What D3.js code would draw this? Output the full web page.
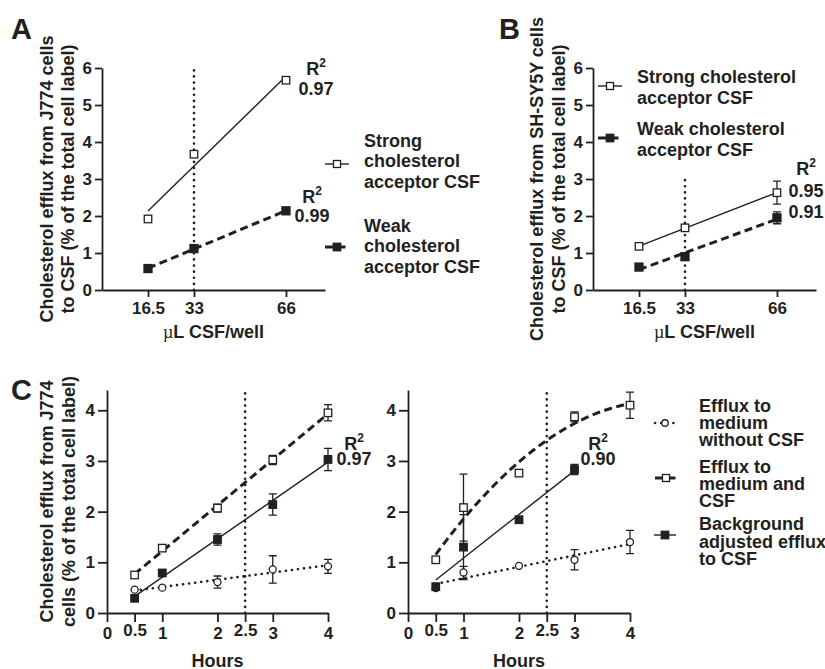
<!DOCTYPE html>
<html><head><meta charset="utf-8">
<script src="https://cdn.jsdelivr.net/npm/d3@7"></script>
<style>
body{margin:0;background:#fff;}
svg text{font-family:"Liberation Sans",Arial,sans-serif;font-weight:bold;fill:#231f20;}
</style></head><body>
<svg id="c" width="825" height="669" viewBox="0 0 825 669"></svg>
<script>
// ---------- data ----------
const doseAB = [16.5, 33, 66];
const doseTicks = [16.5, 33, 66];
const yTicksAB = [0, 1, 2, 3, 4, 5, 6];
const strongA = [1.92, 3.67, 5.67];
const weakA = [0.58, 1.12, 2.14];
const strongB = [1.18, 1.68, 2.63];
const strongBErr = [0, 0, 0.31];
const weakB = [0.62, 0.90, 1.95];
const weakBErr = [0, 0.09, 0.16];
const hoursC = [0.5, 1, 2, 3, 4];
const hoursAdjR = [0.5, 1, 2, 3];
const hourTicks = [0, 0.5, 1, 2, 2.5, 3, 4];
const yTicksC = [0, 1, 2, 3, 4];
const noCsfL = [0.46, 0.50, 0.61, 0.86, 0.92];
const noCsfLErr = [0, 0, 0.12, 0.27, 0.14];
const withCsfL = [0.75, 1.28, 2.07, 3.02, 3.95];
const withCsfLErr = [0, 0, 0.08, 0.09, 0.16];
const adjL = [0.29, 0.79, 1.45, 2.14, 3.03];
const adjLErr = [0, 0, 0.11, 0.21, 0.22];
const noCsfR = [0.49, 0.80, 0.93, 1.05, 1.40];
const noCsfRErr = [0, 0.12, 0, 0.20, 0.23];
const withCsfR = [1.05, 2.08, 2.76, 3.87, 4.10];
const withCsfRErr = [0, 0.66, 0, 0.10, 0.26];
const adjR = [0.52, 1.30, 1.84, 2.83];
const adjRErr = [0, 0.64, 0, 0.10];
const r2A = ["0.97", "0.99"];
const r2B = ["0.95", "0.91"];
const r2C = ["0.97", "0.90"];
const legendAB = [["Strong", "cholesterol", "acceptor CSF"], ["Weak", "cholesterol", "acceptor CSF"]];
const legendB = [["Strong cholesterol", "acceptor CSF"], ["Weak cholesterol", "acceptor CSF"]];
const legendC = [["Efflux to", "medium", "without CSF"], ["Efflux to", "medium and", "CSF"], ["Background", "adjusted efflux", "to CSF"]];

// ---------- helpers ----------
const INK = "#231f20";
const svg = d3.select("#c");
svg.append("rect").attr("width", 825).attr("height", 669).attr("fill", "#fff");

function linFit(xs, ys) {
  const n = xs.length, mx = d3.mean(xs), my = d3.mean(ys);
  let sxx = 0, sxy = 0;
  for (let i = 0; i < n; i++) { sxx += (xs[i] - mx) ** 2; sxy += (xs[i] - mx) * (ys[i] - my); }
  const b = sxy / sxx;
  return x => my + b * (x - mx);
}
function quadFit(xs, ys) {
  const S = k => d3.sum(xs, x => x ** k);
  const T = k => d3.sum(xs.map((x, i) => x ** k * ys[i]));
  const M = [[S(0), S(1), S(2), T(0)], [S(1), S(2), S(3), T(1)], [S(2), S(3), S(4), T(2)]];
  for (let i = 0; i < 3; i++) {
    for (let j = i + 1; j < 3; j++) {
      const f = M[j][i] / M[i][i];
      for (let k = i; k < 4; k++) M[j][k] -= f * M[i][k];
    }
  }
  const c = [0, 0, 0];
  for (let i = 2; i >= 0; i--) {
    let s = M[i][3];
    for (let k = i + 1; k < 3; k++) s -= M[i][k] * c[k];
    c[i] = s / M[i][i];
  }
  return x => c[0] + c[1] * x + c[2] * x * x;
}
const STYLE = {
  solid: { w: 1.4, dash: null, cap: "butt" },
  dashed: { w: 3, dash: "8,4.5", cap: "butt" },
  dotted: { w: 2.6, dash: "0.1,6", cap: "round" }
};
function styled(sel, s) {
  const st = STYLE[s];
  sel.attr("stroke", INK).attr("fill", "none").attr("stroke-width", st.w).attr("stroke-linecap", st.cap);
  if (st.dash) sel.attr("stroke-dasharray", st.dash);
  return sel;
}
function fitLine(p, xs, f, style, samples) {
  const x0 = d3.min(xs), x1 = d3.max(xs);
  const pts = samples ? d3.range(samples + 1).map(i => x0 + (x1 - x0) * i / samples) : [x0, x1];
  styled(svg.append("path").attr("d", d3.line().x(d => p.x(d)).y(d => p.y(f(d)))(pts)), style);
}
function marker(g, cx, cy, type, s) {
  if (type === "circle") {
    g.append("circle").attr("cx", cx).attr("cy", cy).attr("r", s / 2)
      .attr("fill", "#fff").attr("stroke", INK).attr("stroke-width", 1.3);
  } else {
    g.append("rect").attr("x", cx - s / 2).attr("y", cy - s / 2).attr("width", s).attr("height", s)
      .attr("fill", type === "filled" ? INK : "#fff").attr("stroke", INK).attr("stroke-width", 1.3);
  }
}
function errBars(p, xs, ys, es) {
  xs.forEach((x, i) => {
    const e = es ? es[i] : 0;
    if (!e) return;
    const cx = p.x(x), t = p.y(ys[i] + e), b = p.y(ys[i] - e);
    svg.append("path").attr("d", `M${cx},${t}V${b}M${cx - 4},${t}H${cx + 4}M${cx - 4},${b}H${cx + 4}`)
      .attr("stroke", INK).attr("stroke-width", 1.3).attr("fill", "none");
  });
}
function points(p, xs, ys, type, s) {
  const g = svg.append("g");
  xs.forEach((x, i) => marker(g, p.x(x), p.y(ys[i]), type, s));
}
function txt(x, y, s, size, anchor) {
  return svg.append("text").attr("x", x).attr("y", y).attr("font-size", size || 18)
    .attr("text-anchor", anchor || "start").text(s);
}
function r2(x, yR, yN, val) {
  const t = svg.append("text").attr("x", x).attr("y", yR).attr("font-size", 18).attr("text-anchor", "middle");
  t.append("tspan").text("R");
  t.append("tspan").attr("font-size", 12).attr("dy", -8).text("2");
  txt(x, yN, val, 18, "middle");
}
function yLabel(xs, cy, lines) {
  lines.forEach((l, i) => {
    svg.append("text").attr("transform", `translate(${xs[i]},${cy}) rotate(-90)`)
      .attr("text-anchor", "middle").attr("font-size", 18).text(l);
  });
}
function axes(p, xt, yt, tick, fmtX, raise) {
  const gx = svg.append("g").attr("transform", `translate(0,${p.y.range()[0]})`)
    .call(d3.axisBottom(p.x).tickValues(xt).tickSize(tick).tickSizeOuter(0).tickPadding(5).tickFormat(fmtX));
  const gy = svg.append("g").attr("transform", `translate(${p.x.range()[0]},0)`)
    .call(d3.axisLeft(p.y).tickValues(yt).tickSize(tick).tickSizeOuter(0).tickPadding(3).tickFormat(d3.format("d")));
  [gx, gy].forEach(g => {
    g.attr("font-family", null).attr("font-size", null).attr("color", INK);
    g.selectAll("path,line").attr("stroke-width", 1.8);
    g.selectAll("text").attr("font-size", 17);
  });
  if (raise) gx.selectAll(".tick text").filter(d => raise.includes(d)).attr("y", function () { return +d3.select(this).attr("y") - 3; });
}
function vref(p, xv, ytop) {
  styled(svg.append("line").attr("x1", p.x(xv)).attr("x2", p.x(xv))
    .attr("y1", p.y(0)).attr("y2", p.y(ytop)), "dotted");
}
function legendSym(x0, x1, y, style, type, s) {
  styled(svg.append("line").attr("x1", x0).attr("x2", x1).attr("y1", y).attr("y2", y), style);
  marker(svg.append("g"), (x0 + x1) / 2, y, type, s);
}

// ---------- Panel A ----------
const pA = { x: d3.scaleLinear([0, 80], [102, 325]), y: d3.scaleLinear([0, 6], [290, 68]) };
vref(pA, 33, 6);
fitLine(pA, doseAB, linFit(doseAB, strongA), "solid");
fitLine(pA, doseAB, linFit(doseAB, weakA), "dashed");
points(pA, doseAB, strongA, "open", 7.5);
points(pA, doseAB, weakA, "filled", 8);
axes(pA, doseTicks, yTicksAB, 7, d => String(d));
txt(213.5, 338, "", 18, "middle").call(t => {
  t.append("tspan").attr("font-family", "'Liberation Serif',serif").attr("font-weight", "normal").text("µ");
  t.append("tspan").text("L CSF/well");
});
yLabel([53, 74], 179, ["Cholesterol efflux from J774 cells", "to CSF (% of the total cell label)"]);
r2(316, 75, 95, r2A[0]);
r2(312, 203, 222, r2A[1]);
legendSym(325, 349, 164, "solid", "open", 7);
legendSym(325, 349, 247, "dashed", "filled", 7.5);
legendAB[0].forEach((l, i) => txt(364, [147, 167, 188][i], l));
legendAB[1].forEach((l, i) => txt(364, [232, 252, 273][i], l));
txt(11, 39, "A", 29);

// ---------- Panel B ----------
const pB = { x: d3.scaleLinear([0, 80], [593, 816]), y: d3.scaleLinear([0, 6], [290, 68]) };
vref(pB, 33, 3);
fitLine(pB, doseAB, linFit(doseAB, strongB), "solid");
fitLine(pB, doseAB, linFit(doseAB, weakB), "dashed");
errBars(pB, doseAB, strongB, strongBErr);
errBars(pB, doseAB, weakB, weakBErr);
points(pB, doseAB, strongB, "open", 7.5);
points(pB, doseAB, weakB, "filled", 8);
axes(pB, doseTicks, yTicksAB, 7, d => String(d));
txt(704.5, 338, "", 18, "middle").call(t => {
  t.append("tspan").attr("font-family", "'Liberation Serif',serif").attr("font-weight", "normal").text("µ");
  t.append("tspan").text("L CSF/well");
});
yLabel([543, 565], 179, ["Cholesterol efflux from SH-SY5Y cells", "to CSF (% of the total cell label)"]);
r2(806, 175, 197, r2B[0]);
txt(806, 218, r2B[1], 18, "middle");
legendSym(598, 622, 86, "solid", "open", 7);
legendSym(598, 622, 138, "dashed", "filled", 7.5);
legendB[0].forEach((l, i) => txt(637, [83, 104][i], l));
legendB[1].forEach((l, i) => txt(637, [135, 156][i], l));
txt(499, 39, "B", 29);

// ---------- Panel C ----------
const yC = d3.scaleLinear([0, 4.4], [613, 390]);
const pCL = { x: d3.scaleLinear([0, 4], [107, 328]), y: yC };
const pCR = { x: d3.scaleLinear([0, 4], [408, 630]), y: yC };
const fmtH = d => String(d);

function panelC(p, adjX, nc, ncE, wc, wcE, ad, adE, curved) {
  vref(p, 2.5, 4.4);
  fitLine(p, hoursC, linFit(hoursC, nc), "dotted");
  if (curved) fitLine(p, hoursC, quadFit(hoursC, wc), "dashed", 60);
  else fitLine(p, hoursC, linFit(hoursC, wc), "dashed");
  fitLine(p, adjX, linFit(adjX, ad), "solid");
  errBars(p, hoursC, nc, ncE);
  errBars(p, hoursC, wc, wcE);
  errBars(p, adjX, ad, adE);
  points(p, hoursC, nc, "circle", 7);
  points(p, hoursC, wc, "open", 7.5);
  points(p, adjX, ad, "filled", 7.5);
  axes(p, hourTicks, yTicksC, 9, fmtH, [0.5, 2.5]);
  const r = p.x.range();
  txt((r[0] + r[1]) / 2, 667, "Hours", 18, "middle");
}
panelC(pCL, hoursC, noCsfL, noCsfLErr, withCsfL, withCsfLErr, adjL, adjLErr, false);
panelC(pCR, hoursAdjR, noCsfR, noCsfRErr, withCsfR, withCsfRErr, adjR, adjRErr, true);
yLabel([53, 75], 501.5, ["Cholesterol efflux from J774", "cells (% of the total cell label)"]);
r2(354, 450, 465, r2C[0]);
r2(598, 450, 465, r2C[1]);
legendSym(655, 675, 423, "dotted", "circle", 6.5);
legendSym(655, 677, 478, "dashed", "open", 7);
legendSym(654, 676, 535, "solid", "filled", 7.5);
legendC[0].forEach((l, i) => txt(699, [412, 429, 446][i], l));
legendC[1].forEach((l, i) => txt(699, [473, 490, 507][i], l));
legendC[2].forEach((l, i) => txt(699, [530, 548, 565][i], l));
txt(11, 400, "C", 29);
</script>
</body></html>
